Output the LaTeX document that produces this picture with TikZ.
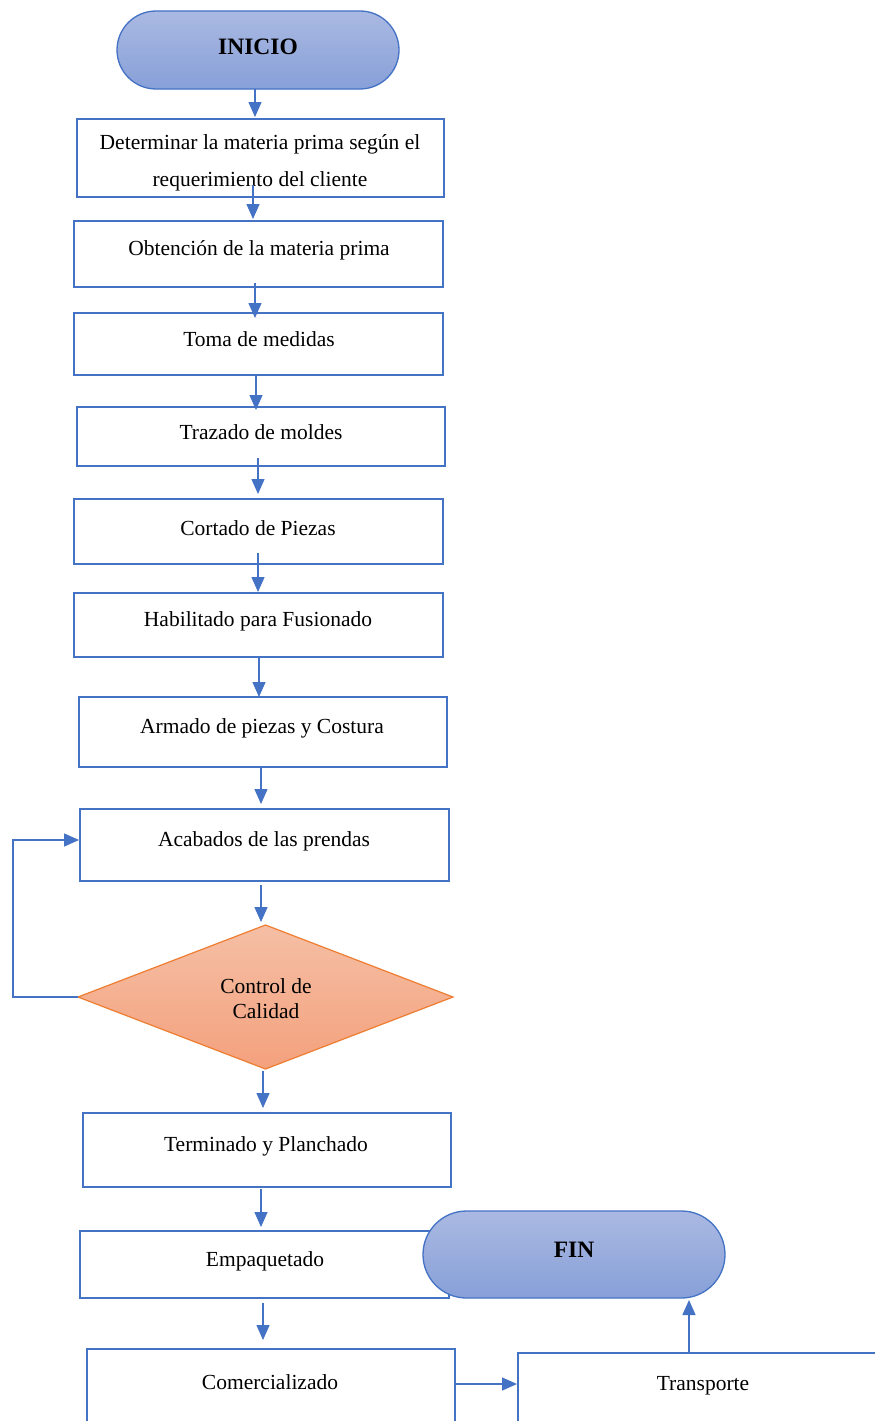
\documentclass[tikz,border=0pt]{standalone}
\usepackage{fontspec}
\setmainfont{Liberation Serif}
\usetikzlibrary{arrows.meta,shapes.misc,shapes.geometric,calc}
\definecolor{flowblue}{HTML}{4472C4}
\definecolor{termtop}{HTML}{AAB9E2}
\definecolor{termbot}{HTML}{87A0D8}
\definecolor{dectop}{HTML}{F5BFA5}
\definecolor{decbot}{HTML}{F4A17D}
\definecolor{decline}{HTML}{ED7D31}
\tikzset{
  stepbox/.style={draw=flowblue, line width=2.8pt, fill=white, rectangle, inner sep=0pt, outer sep=0pt},
  term/.style={rounded rectangle, draw=flowblue, line width=1.3pt, top color=termtop, bottom color=termbot, inner sep=0pt, outer sep=0pt},
  decision/.style={diamond, draw=decline, line width=1.2pt, top color=dectop, bottom color=decbot, inner sep=0pt, outer sep=0pt},
  txt/.style={font=\fontsize{21.5}{25}\selectfont, align=center, inner sep=0pt},
  ttl/.style={font=\fontsize{23.5}{28}\selectfont\bfseries, inner sep=0pt},
  arr/.style={draw=flowblue, line width=1.4pt, -{Triangle[width=13pt,length=15pt]}},
}
\begin{document}
\begin{tikzpicture}[x=1pt,y=-1pt]
\useasboundingbox (0,0) rectangle (875,1421);
\fill[white] (0,0) rectangle (875,1421);
\begin{scope}
\clip (0,0) rectangle (875,1421);

% start terminator
\node[term, minimum width=282pt, minimum height=78pt] (inicio) at (258,50) {};
\node[ttl] (tinicio) at (258,47) {INICIO};

% process steps
\node[stepbox, minimum width=367pt, minimum height=78pt] (b1) at (260.5,158) {};
\node[txt, font=\fontsize{21.5}{37}\selectfont] (t1) at (260,163) {Determinar la materia prima según el\\requerimiento del cliente};
\node[stepbox, minimum width=369pt, minimum height=66pt] (b2) at (258.5,254) {};
\node[txt] (t2) at (259,250) {Obtención de la materia prima};
\node[stepbox, minimum width=369pt, minimum height=62pt] (b3) at (258.5,344) {};
\node[txt] (t3) at (259,339) {Toma de medidas};
\node[stepbox, minimum width=368pt, minimum height=59pt] (b4) at (261,436.5) {};
\node[txt] (t4) at (261,432) {Trazado de moldes};
\node[stepbox, minimum width=369pt, minimum height=65pt] (b5) at (258.5,531.5) {};
\node[txt] (t5) at (258,528) {Cortado de Piezas};
\node[stepbox, minimum width=369pt, minimum height=64pt] (b6) at (258.5,625) {};
\node[txt] (t6) at (258,621) {Habilitado para Fusionado};
\node[stepbox, minimum width=368pt, minimum height=70pt] (b7) at (263,732) {};
\node[txt] (t7) at (262,728) {Armado de piezas y Costura};
\node[stepbox, minimum width=369pt, minimum height=72pt] (b8) at (264.5,845) {};
\node[txt] (t8) at (264,841) {Acabados de las prendas};

% quality check
\node[decision, minimum width=375pt, minimum height=144pt] (dec) at (265.5,997) {};
\node[txt] (tdec) at (266,999) {Control de\\Calidad};

\node[stepbox, minimum width=368pt, minimum height=74pt] (b9) at (267,1150) {};
\node[txt] (t9) at (266,1146) {Terminado y Planchado};
\node[stepbox, minimum width=369pt, minimum height=67pt] (b10) at (264.5,1264.5) {};
\node[txt] (t10) at (265,1261) {Empaquetado};

% end terminator (drawn over the packaging box)
\node[term, minimum width=302pt, minimum height=87pt] (fin) at (574,1254.5) {};
\node[ttl] (tfin) at (574,1250) {FIN};

\node[stepbox, minimum width=368pt, minimum height=90pt] (b11) at (271,1394) {};
\node[txt] (t11) at (270,1382) {Comercializado};
\node[stepbox, minimum width=372pt, minimum height=86pt] (b12) at (704,1396) {};
\node[txt] (t12) at (703,1386) {Transporte};

% connector end points
\coordinate (s1) at ($(inicio.south)+(-3,0)$);
\coordinate (e1) at ($(s1 |- b1.north)+(0,-2)$);
\coordinate (s2) at ($(b1.south)+(-7.5,-12)$);
\coordinate (e2) at ($(s2 |- b2.north)+(0,-2)$);
\coordinate (s3) at ($(b2.south)+(-3.5,-4)$);
\coordinate (e3) at ($(s3 |- b3.north)+(0,5)$);
\coordinate (s4) at ($(b3.south)+(-2.5,0)$);
\coordinate (e4) at ($(s4 |- b4.north)+(0,3)$);
\coordinate (s5) at ($(b4.south)+(-3,-8)$);
\coordinate (e5) at ($(s5 |- b5.north)+(0,-5)$);
\coordinate (s6) at ($(b5.south)+(-0.5,-11)$);
\coordinate (e6) at ($(s6 |- b6.north)+(0,-1)$);
\coordinate (s7) at ($(b6.south)+(0.5,0)$);
\coordinate (e7) at ($(s7 |- b7.north)+(0,0)$);
\coordinate (s8) at ($(b7.south)+(-2,0)$);
\coordinate (e8) at ($(s8 |- b8.north)+(0,-5)$);
\coordinate (s9) at ($(b8.south)+(-3.5,4)$);
\coordinate (e9) at ($(s9 |- dec.north)+(0,-3)$);
\coordinate (s10) at ($(dec.south)+(-2.5,2)$);
\coordinate (e10) at ($(s10 |- b9.north)+(0,-5)$);
\coordinate (s11) at ($(b9.south)+(-6,2)$);
\coordinate (e11) at ($(s11 |- b10.north)+(0,-4)$);
\coordinate (s12) at ($(b10.south)+(-1.5,5)$);
\coordinate (e12) at ($(s12 |- b11.north)+(0,-9)$);
\coordinate (s13) at ($(b11.east)+(0,-10)$);
\coordinate (e13) at ($(s13 -| b12.west)+(-1,0)$);
\coordinate (s14) at ($(b12.north)+(-15,0)$);
\coordinate (e14) at ($(s14 |- fin.south)+(0,2)$);
\coordinate (loopin) at ($(b8.west)+(-1,-5)$);
\coordinate (loopx) at ($(dec.west)+(-65,0)$);

% connectors
\draw[arr] (s1) -- (e1);
\draw[arr] (s2) -- (e2);
\draw[arr] (s3) -- (e3);
\draw[arr] (s4) -- (e4);
\draw[arr] (s5) -- (e5);
\draw[arr] (s6) -- (e6);
\draw[arr] (s7) -- (e7);
\draw[arr] (s8) -- (e8);
\draw[arr] (s9) -- (e9);
\draw[arr] (s10) -- (e10);
\draw[arr] (s11) -- (e11);
\draw[arr] (s12) -- (e12);
\draw[arr] (s13) -- (e13);
\draw[arr] (s14) -- (e14);
\draw[arr] (dec.west) -- (loopx) |- (loopin);
\end{scope}
\end{tikzpicture}
\end{document}
